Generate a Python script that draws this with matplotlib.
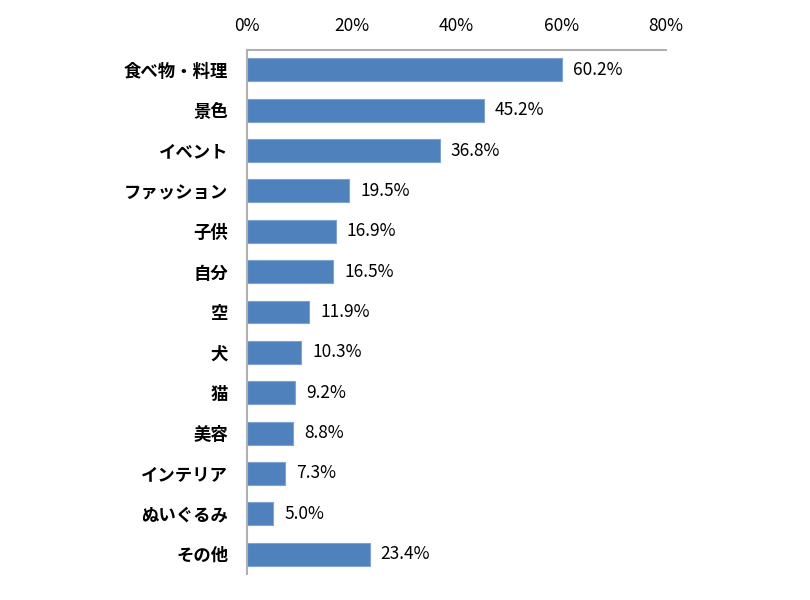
import matplotlib
matplotlib.use("Agg")
import matplotlib.pyplot as plt
from matplotlib.ticker import FuncFormatter

plt.rcParams['font.family'] = ['Noto Sans CJK JP', 'DejaVu Sans']

categories = ["食べ物・料理", "景色", "イベント", "ファッション", "子供", "自分", "空", "犬", "猫", "美容", "インテリア", "ぬいぐるみ", "その他"]
values = [60.2, 45.2, 36.8, 19.5, 16.9, 16.5, 11.9, 10.3, 9.2, 8.8, 7.3, 5.0, 23.4]
xticks = [0, 20, 40, 60, 80]

fig = plt.figure(figsize=(8.1, 6.0), dpi=100)
ax = fig.add_axes([0.305, 0.043, 0.517, 0.874])

y = list(range(len(categories)))
ax.barh(y, values, height=0.57, color="#4F81BD", edgecolor="#7FA3D3", linewidth=0.8)
ax.set_ylim(len(categories) - 0.5, -0.5)
ax.set_xlim(0, 80)
ax.set_xticks(xticks)
ax.xaxis.set_major_formatter(FuncFormatter(lambda v, p: f"{v:.0f}%"))
ax.xaxis.tick_top()
ax.tick_params(axis='x', length=0, pad=11, labelsize=12.5)
ax.set_yticks(y)
ax.set_yticklabels(categories, fontsize=12.5, fontweight='bold')
ax.tick_params(axis='y', length=0, pad=13.5)

for s in ['right', 'bottom']:
    ax.spines[s].set_visible(False)
for s in ['top', 'left']:
    ax.spines[s].set_color("#B0B0B0")
    ax.spines[s].set_linewidth(1.5)

for yi, v in zip(y, values):
    ax.annotate(f"{v:.1f}%", xy=(v, yi), xytext=(8, 0), textcoords='offset points',
                va='center', ha='left', fontsize=12.5)

fig.savefig("out.png", dpi=100)
